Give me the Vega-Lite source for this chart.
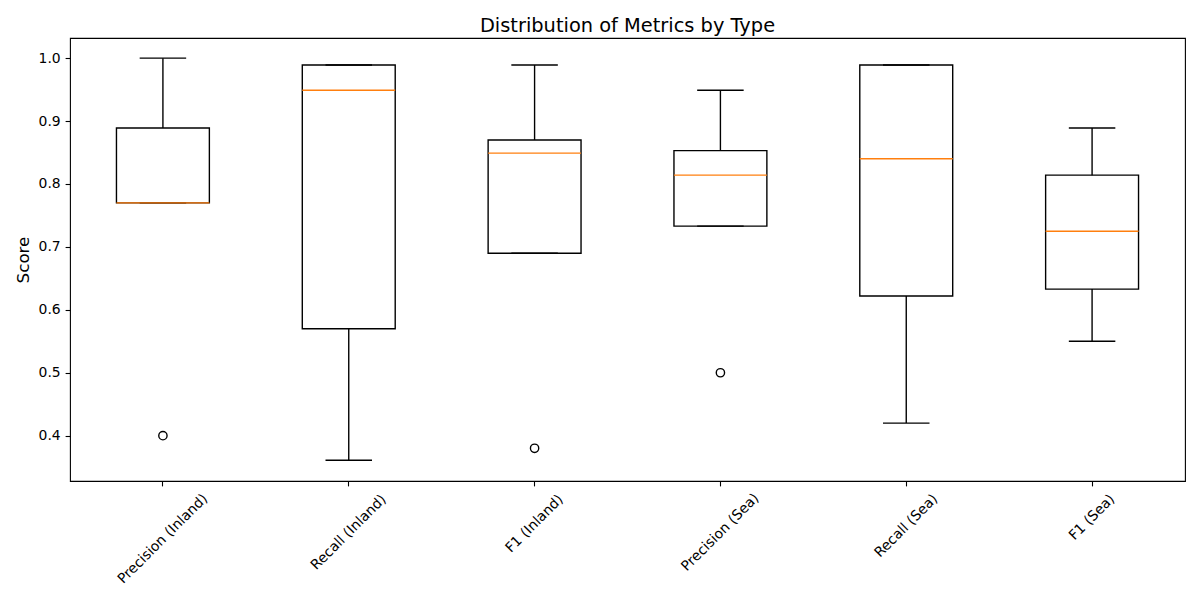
{
  "$schema": "https://vega.github.io/schema/vega-lite/v6.json",
  "width": 1115,
  "height": 443,
  "autosize": {"type": "none"},
  "padding": {"left": 70, "top": 38, "right": 15, "bottom": 119},
  "background": "white",
  "config": {
    "font": "DejaVu Sans",
    "view": {"stroke": "black", "strokeWidth": 1.1},
    "axis": {"domain": false, "grid": false, "labelFont": "DejaVu Sans", "labelFontSize": 13.9, "labelColor": "black", "tickColor": "black", "tickWidth": 1.1, "tickSize": 4.9, "labelPadding": 4.9, "titleFont": "DejaVu Sans", "titleColor": "black", "titleFontWeight": "normal"}
  },
  "title": {"text": "Distribution of Metrics by Type", "font": "DejaVu Sans", "fontSize": 19.4, "fontWeight": "normal", "color": "black", "anchor": "middle", "frame": "group", "offset": 4, "baseline": "bottom", "dy": 21},
  "datasets": {
    "boxes": [
      {"metric": "Precision (Inland)", "low": 0.77, "q1": 0.77, "median": 0.77, "q3": 0.889, "high": 1.0},
      {"metric": "Recall (Inland)", "low": 0.361, "q1": 0.57, "median": 0.949, "q3": 0.989, "high": 0.989},
      {"metric": "F1 (Inland)", "low": 0.69, "q1": 0.69, "median": 0.849, "q3": 0.87, "high": 0.989},
      {"metric": "Precision (Sea)", "low": 0.733, "q1": 0.733, "median": 0.814, "q3": 0.853, "high": 0.949},
      {"metric": "Recall (Sea)", "low": 0.42, "q1": 0.622, "median": 0.84, "q3": 0.989, "high": 0.989},
      {"metric": "F1 (Sea)", "low": 0.55, "q1": 0.633, "median": 0.725, "q3": 0.814, "high": 0.889}
    ],
    "outliers": [
      {"metric": "Precision (Inland)", "value": 0.40},
      {"metric": "F1 (Inland)", "value": 0.38},
      {"metric": "Precision (Sea)", "value": 0.50}
    ]
  },
  "encoding": {
    "x": {
      "field": "metric", "type": "nominal",
      "sort": ["Precision (Inland)", "Recall (Inland)", "F1 (Inland)", "Precision (Sea)", "Recall (Sea)", "F1 (Sea)"],
      "scale": {"paddingInner": 0, "paddingOuter": 0},
      "axis": {
        "title": null, "labelAngle": -45, "labelAlign": "center", "labelBaseline": "middle", "labelOverlap": false, "labelBound": false, "labelFlush": false,
        "labelPadding": {"expr": "13.9 + 2.15*length(datum.label)"}
      }
    }
  },
  "layer": [
    {
      "data": {"name": "boxes"},
      "mark": {"type": "bar", "fill": null, "fillOpacity": 0, "stroke": "black", "strokeWidth": 1.39, "width": {"band": 0.5}},
      "encoding": {
        "y": {"field": "q1", "type": "quantitative",
          "scale": {"domain": [0.328, 1.032], "nice": false, "zero": false},
          "axis": {"values": [0.4, 0.5, 0.6, 0.7, 0.8, 0.9, 1.0], "format": ".1f", "title": "Score", "titleFontSize": 16.7, "titleAngle": -90, "titleX": -47, "titleY": 221.5, "titleAlign": "center", "titleBaseline": "middle"}},
        "y2": {"field": "q3"}
      }
    },
    {
      "data": {"name": "boxes"},
      "mark": {"type": "rule", "color": "black", "strokeWidth": 1.39},
      "encoding": {"y": {"field": "low", "type": "quantitative"}, "y2": {"field": "q1"}}
    },
    {
      "data": {"name": "boxes"},
      "mark": {"type": "rule", "color": "black", "strokeWidth": 1.39},
      "encoding": {"y": {"field": "q3", "type": "quantitative"}, "y2": {"field": "high"}}
    },
    {
      "data": {"name": "boxes"},
      "mark": {"type": "tick", "color": "black", "size": 46.5, "thickness": 1.39, "opacity": 1},
      "encoding": {"y": {"field": "low", "type": "quantitative"}}
    },
    {
      "data": {"name": "boxes"},
      "mark": {"type": "tick", "color": "black", "size": 46.5, "thickness": 1.39, "opacity": 1},
      "encoding": {"y": {"field": "high", "type": "quantitative"}}
    },
    {
      "data": {"name": "boxes"},
      "mark": {"type": "tick", "color": "#ff7f0e", "size": 92.9, "thickness": 1.39, "opacity": 1},
      "encoding": {"y": {"field": "median", "type": "quantitative"}}
    },
    {
      "data": {"name": "outliers"},
      "mark": {"type": "point", "shape": "circle", "filled": false, "stroke": "black", "strokeWidth": 1.39, "size": 69, "opacity": 1},
      "encoding": {"y": {"field": "value", "type": "quantitative"}}
    }
  ]
}
